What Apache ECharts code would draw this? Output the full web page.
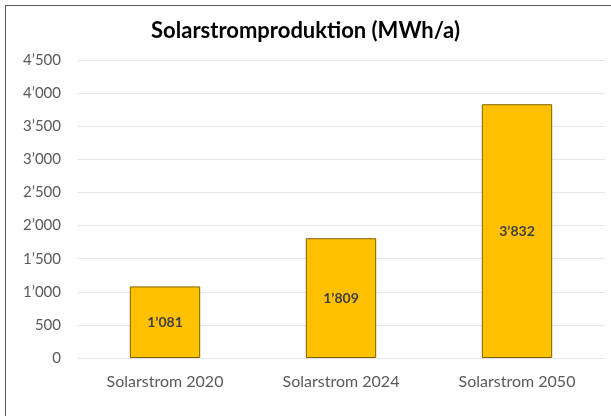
<!DOCTYPE html>
<html>
<head>
<meta charset="utf-8">
<script src="https://cdn.jsdelivr.net/npm/echarts@6/dist/echarts.min.js"></script>
<style>
  html, body { margin: 0; padding: 0; background: #fff; }
  .frame {
    position: absolute; left: 5px; top: 5px; width: 610px; height: 420px;
    border: 1.5px solid #595959; box-sizing: border-box;
  }
  #chart { position: absolute; left: 0; top: 0; width: 611px; height: 416px; }
</style>
</head>
<body>
<div class="frame"></div>
<div id="chart"></div>
<script>
// Daten
const categories = ['Solarstrom 2020', 'Solarstrom 2024', 'Solarstrom 2050'];
const values = [1081, 1809, 3832];

// Tausendertrennzeichen wie im Original (1’081)
function fmt(v) {
  return String(v).replace(/\B(?=(\d{3})+(?!\d))/g, '’');
}

const chart = echarts.init(document.getElementById('chart'));
chart.setOption({
  textStyle: { fontFamily: 'Lato' },
  title: {
    text: 'Solarstromproduktion (MWh/a)',
    left: 'center',
    top: 15,
    textStyle: { fontSize: 22, fontWeight: 'bold', color: '#000', fontFamily: 'Lato' }
  },
  grid: { left: 77, right: 6, top: 60, bottom: 58 },
  xAxis: {
    type: 'category',
    data: categories,
    axisLine: { show: false },
    axisTick: { show: false },
    axisLabel: { color: '#595959', fontSize: 16, margin: 16 }
  },
  yAxis: {
    type: 'value',
    min: 0,
    max: 4500,
    interval: 500,
    axisLabel: { color: '#595959', fontSize: 15, margin: 16, formatter: fmt },
    splitLine: { lineStyle: { color: '#e6e6e6', width: 1 } }
  },
  series: [{
    type: 'bar',
    data: values,
    barWidth: '40%',
    itemStyle: { color: '#ffc000', borderColor: '#7f6000', borderWidth: 1 },
    label: {
      show: true,
      position: 'inside',
      color: '#404040',
      fontSize: 14,
      fontWeight: 'bold',
      formatter: p => fmt(p.value)
    }
  }]
});
</script>
</body>
</html>
